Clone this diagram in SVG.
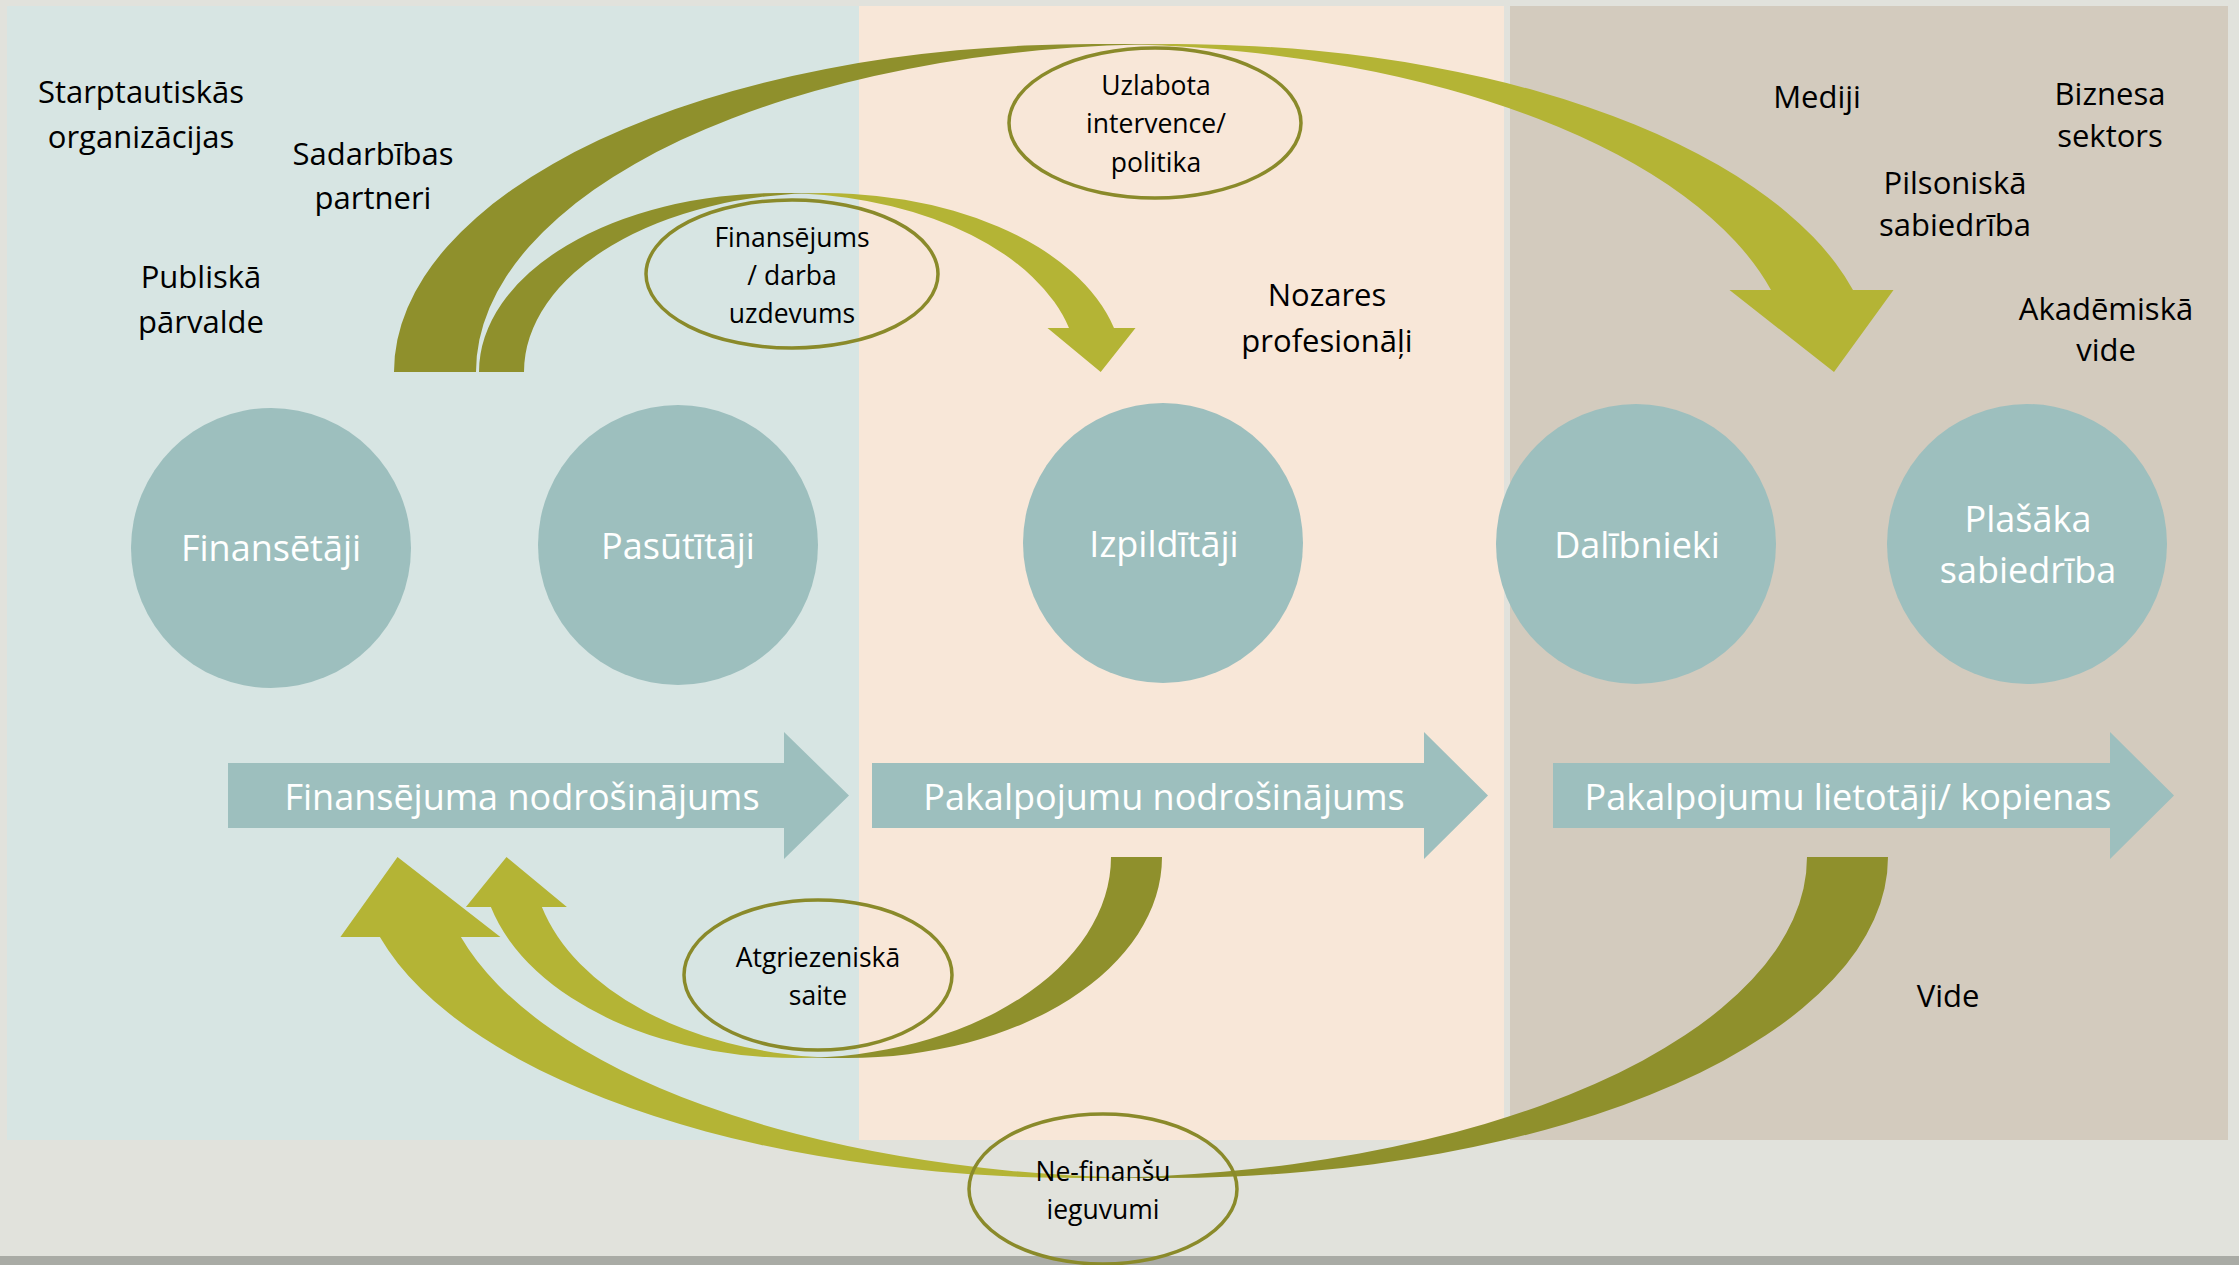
<svg xmlns="http://www.w3.org/2000/svg" width="2239" height="1265" viewBox="0 0 2239 1265">
<style>
.lbl{font-family:"Open Sans","Liberation Sans",sans-serif;font-size:31px;fill:#000;text-anchor:middle}
.sm{font-family:"Open Sans","Liberation Sans",sans-serif;font-size:26.5px;fill:#000;text-anchor:middle}
.wt{font-family:"Open Sans","Liberation Sans",sans-serif;font-size:36px;fill:#fff;text-anchor:middle}
.node{fill:#9DBFBE}
.dark{fill:#8F902C}
.light{fill:#B4B435}
.oval{fill:none;stroke:#8A8A2A;stroke-width:3.5}
</style>
<g id="background">
<rect width="2239" height="1265" fill="#E1E2DC"/>
<rect x="7" y="6" width="852" height="1134" fill="#D7E5E3"/>
<rect x="859" y="6" width="645" height="1134" fill="#F8E7D8"/>
<rect x="1510" y="6" width="718" height="1134" fill="#D3CBBE"/>
<rect x="0" y="1256" width="2239" height="9" fill="#A9ABA5"/>
</g>
<g id="labels">
<g id="lbl-starpt"><text class="lbl" x="141" y="103">Starptautiskās</text><text class="lbl" x="141" y="148">organizācijas</text></g>
<g id="lbl-sadarb"><text class="lbl" x="373" y="165">Sadarbības</text><text class="lbl" x="373" y="209">partneri</text></g>
<g id="lbl-publ"><text class="lbl" x="201" y="288">Publiskā</text><text class="lbl" x="201" y="333">pārvalde</text></g>
<g id="lbl-mediji"><text class="lbl" x="1817" y="108">Mediji</text></g>
<g id="lbl-bizn"><text class="lbl" x="2110" y="105">Biznesa</text><text class="lbl" x="2110" y="147">sektors</text></g>
<g id="lbl-pils"><text class="lbl" x="1955" y="194">Pilsoniskā</text><text class="lbl" x="1955" y="236">sabiedrība</text></g>
<g id="lbl-noz"><text class="lbl" x="1327" y="306">Nozares</text><text class="lbl" x="1327" y="352">profesionāļi</text></g>
<g id="lbl-akad"><text class="lbl" x="2106" y="320">Akadēmiskā</text><text class="lbl" x="2106" y="361">vide</text></g>
<g id="lbl-vide"><text class="lbl" x="1948" y="1007">Vide</text></g>
</g>
<g id="node-finansetaji"><circle class="node" cx="271" cy="548" r="140"/><text class="wt" x="271" y="561">Finansētāji</text></g>
<g id="node-pasutitaji"><circle class="node" cx="678" cy="545" r="140"/><text class="wt" x="678" y="559">Pasūtītāji</text></g>
<g id="node-izpilditaji"><circle class="node" cx="1163" cy="543" r="140"/><text class="wt" x="1164" y="557">Izpildītāji</text></g>
<g id="node-dalibnieki"><circle class="node" cx="1636" cy="544" r="140"/><text class="wt" x="1637" y="558">Dalībnieki</text></g>
<g id="node-plasaka"><circle class="node" cx="2027" cy="544" r="140"/><text class="wt" x="2028" y="532">Plašāka</text><text class="wt" x="2028" y="583">sabiedrība</text></g>
<g id="stage-finansejuma"><polygon class="node" points="228,763 784,763 784,732 849,795.5 784,859 784,828 228,828"/><text class="wt" x="522" y="810">Finansējuma nodrošinājums</text></g>
<g id="stage-pakalpojumu"><polygon class="node" points="872,763 1424,763 1424,732 1488,795.5 1424,859 1424,828 872,828"/><text class="wt" x="1164" y="810">Pakalpojumu nodrošinājums</text></g>
<g id="stage-lietotaji"><polygon class="node" points="1553,763 2110,763 2110,732 2174,795.5 2110,859 2110,828 1553,828"/><text class="wt" x="1848" y="810">Pakalpojumu lietotāji/ kopienas</text></g>
<g id="connectors">
<g id="arc-uzlabota">
<path class="light" d="M1834 372 L1893.5 290 L1853 290 A699.6 328 0 0 0 1134.6 44.6 A699.6 328 0 0 1 1771 290 L1729.5 290 Z"/>
<path class="dark" d="M1093.6 44 A699.6 328 0 0 0 394 372 L476 372 A699.6 328 0 0 1 1175.6 44 Z"/>
</g>
<g id="arc-finansejums">
<path class="light" d="M1100.7 372 L1135.5 328 L1114 328 A299.6 179 0 0 0 801.1 193.5 A299.6 179 0 0 1 1069 328 L1047.5 328 Z"/>
<path class="dark" d="M778.6 193 A299.6 179 0 0 0 479 372 L524 372 A299.6 179 0 0 1 823.6 193 Z"/>
</g>
<g id="arc-atgriezeniska">
<path class="light" d="M506.5 857 L465.9 907 L490.9 907 A315 201 0 0 0 821.5 1057.3 A315 201 0 0 1 541.9 907 L566.9 907 Z"/>
<path class="dark" d="M847 1058 A315 201 0 0 0 1162 857 L1111 857 A315 201 0 0 1 796 1058 Z"/>
</g>
<g id="arc-nefinansu">
<path class="light" d="M397.5 857 L340.4 937 L379.9 937 A725 321 0 0 0 1122.5 1177.5 A725 321 0 0 1 460.9 937 L500.4 937 Z"/>
<path class="dark" d="M1163 1178 A725 321 0 0 0 1888 857 L1807 857 A725 321 0 0 1 1082 1178 Z"/>
</g>
</g>
<g id="note-finansejums"><ellipse class="oval" cx="792" cy="274" rx="146" ry="74"/><text class="sm" x="792" y="247">Finansējums</text><text class="sm" x="792" y="285">/ darba</text><text class="sm" x="792" y="323">uzdevums</text></g>
<g id="note-uzlabota"><ellipse class="oval" cx="1155" cy="123" rx="146" ry="75"/><text class="sm" x="1156" y="95">Uzlabota</text><text class="sm" x="1156" y="133">intervence/</text><text class="sm" x="1156" y="172">politika</text></g>
<g id="note-atgriezeniska"><ellipse class="oval" cx="818" cy="975" rx="134" ry="75"/><text class="sm" x="818" y="967">Atgriezeniskā</text><text class="sm" x="818" y="1005">saite</text></g>
<g id="note-nefinansu"><ellipse class="oval" cx="1103" cy="1189" rx="134" ry="75"/><text class="sm" x="1103" y="1181">Ne-finanšu</text><text class="sm" x="1103" y="1219">ieguvumi</text></g>
</svg>
